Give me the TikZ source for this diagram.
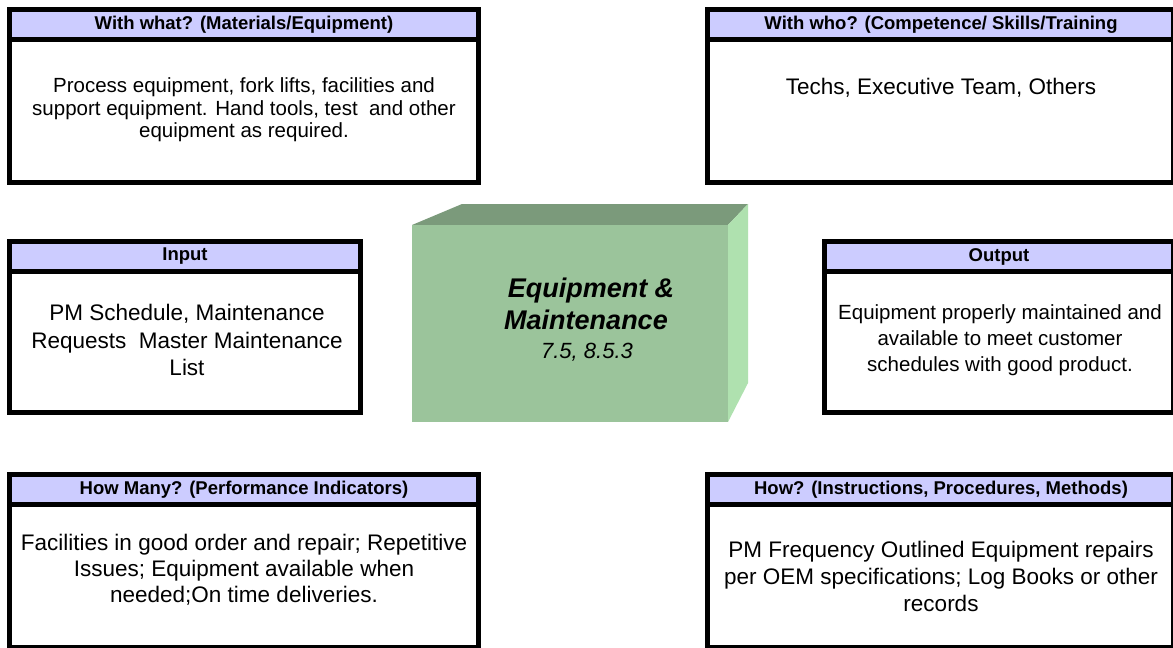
\documentclass[tikz,border=0pt]{standalone}
\usepackage{fontspec}
\setmainfont{Liberation Sans}
\definecolor{hdrfill}{HTML}{CCCCFF}
\definecolor{frontgreen}{HTML}{9BC49B}
\definecolor{topgreen}{HTML}{7B9A7B}
\definecolor{sidegreen}{HTML}{AFE1AF}
\tikzset{
  frame/.style={draw=black, line width=5pt},
  hdr/.style={fill=hdrfill},
  paneltitle/.style={inner sep=0pt, font=\bfseries\fontsize{18.5}{21}\selectfont},
  bodytext/.style={inner sep=0pt, align=center},
  blocktitle/.style={inner sep=0pt, font=\bfseries\itshape\fontsize{27}{29}\selectfont},
  blockref/.style={inner sep=0pt, font=\itshape\fontsize{22}{24}\selectfont}
}
% draw one panel: #1 left, #2 top, #3 right, #4 bottom (outer edges, y downward)
\newcommand{\panelframe}[4]{%
  \fill[hdr] (#1,#2) rectangle (#3,#2+33);
  \draw[frame] (#1+2.5,#2+2.5) rectangle (#3-2.5,#4-2.5);
  \draw[frame] (#1,#2+32.5) -- (#3,#2+32.5);
}
\begin{document}
\begin{tikzpicture}[x=1pt,y=-1pt]
\useasboundingbox (0,0) rectangle (1173,648);
\fill[white] (0,0) rectangle (1173,648);

% With what?
\panelframe{7}{7}{481}{185}
\node[paneltitle] (whatT) at (244,24.5) {With what? (Materials/Equipment)};
\node[bodytext, font=\fontsize{20.5}{22.5}\selectfont] (whatB) at (244,110)
  {Process equipment, fork lifts, facilities and\\support equipment. Hand tools, test~ and other\\equipment as required.};

% With who?
\panelframe{705}{7}{1176}{185}
\node[paneltitle] (whoT) at (941,24.5) {With who? (Competence/ Skills/Training};
\node[bodytext, font=\fontsize{22.5}{27}\selectfont] (whoB) at (941,88)
  {Techs, Executive Team, Others};

% Input
\panelframe{7}{239}{363}{415}
\node[paneltitle] (inT) at (185,256.5) {Input};
\node[bodytext, font=\fontsize{22.5}{27.5}\selectfont] (inB) at (187,340)
  {PM Schedule, Maintenance\\Requests~ Master Maintenance\\List};

% Output
\panelframe{822}{239}{1176}{415}
\node[paneltitle] (outT) at (999,256.5) {Output};
\node[bodytext, font=\fontsize{20.5}{26}\selectfont] (outB) at (1000,340)
  {Equipment properly maintained and\\available to meet customer\\schedules with good product.};

% How many?
\panelframe{7}{472}{481}{650}
\node[paneltitle] (manyT) at (244,489.5) {How Many? (Performance Indicators)};
\node[bodytext, font=\fontsize{22.5}{26}\selectfont] (manyB) at (244,570)
  {Facilities in good order and repair; Repetitive\\Issues; Equipment available when\\needed;On time deliveries.};

% How?
\panelframe{705}{472}{1176}{650}
\node[paneltitle] (howT) at (941,489.5) {How? (Instructions, Procedures, Methods)};
\node[bodytext, font=\fontsize{22.5}{27}\selectfont] (howB) at (941,576)
  {PM Frequency Outlined Equipment repairs\\per OEM specifications; Log Books or other\\records};

% central process block
\fill[topgreen] (412,225) -- (462,204) -- (748,204) -- (728,225) -- cycle;
\fill[sidegreen] (728,225) -- (748,204) -- (748,383) -- (728,422) -- cycle;
\fill[frontgreen] (412,225) rectangle (728,422);
\node[blocktitle] (procA) at (591,291) {Equipment \&};
\node[blocktitle] (procB) at (586,320) {Maintenance};
\node[blockref] (procC) at (587,352) {7.5, 8.5.3};
\end{tikzpicture}
\end{document}
